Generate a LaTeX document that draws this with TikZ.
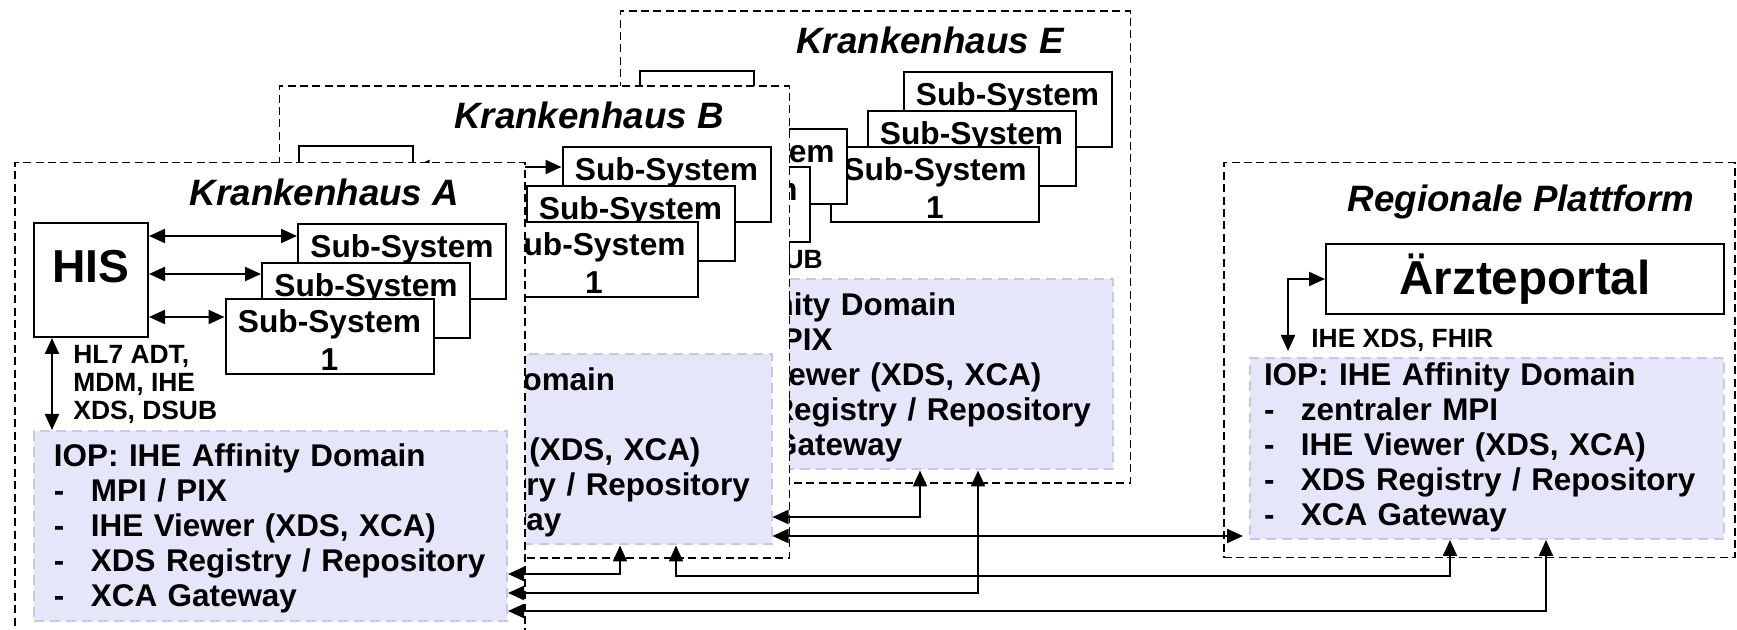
\documentclass[tikz,border=0pt]{standalone}
\usepackage{fontspec}
\setmainfont{Liberation Sans}
\usetikzlibrary{arrows.meta,calc}
\definecolor{iopfill}{RGB}{230,230,250}
\definecolor{iopline}{RGB}{198,198,240}
\newcommand\bul{\makebox[18.5pt][l]{-}}
\newcommand\ioplines[2]{\begin{tabular}{@{}l@{}}#1\\\bul #2\\\bul IHE Viewer (XDS, XCA)\\\bul XDS Registry / Repository\\\bul XCA Gateway\end{tabular}}
\newcommand\subtext{\rule{0pt}{15pt}Sub-System\\1}
\tikzset{
  hframe/.style={draw=black, fill=white, line width=0.75pt, dash pattern=on 4pt off 2.2pt, inner sep=0pt, anchor=north west},
  sysbox/.style={draw=black, fill=white, line width=1pt, inner sep=0pt, anchor=north west},
  subsys/.style={sysbox, minimum width=104pt, minimum height=37.5pt, align=center, font=\fontsize{15.85}{19}\selectfont\bfseries},
  hisbox/.style={sysbox, minimum width=57pt, minimum height=57pt, font=\fontsize{23.1}{28}\selectfont\bfseries, text height=16.5pt, text depth=14pt},
  frametitle/.style={font=\fontsize{18.35}{22}\selectfont\bfseries\itshape, inner sep=0pt},
  lbl/.style={font=\fontsize{13.2}{14}\selectfont\bfseries, align=left, inner sep=0pt},
  iop/.style={draw=iopline, fill=iopfill, line width=1pt, dash pattern=on 5pt off 3pt, anchor=north west, align=left, inner ysep=0pt, font=\fontsize{15.7}{17.5}\selectfont\bfseries},
  bi/.style={{Triangle[length=8pt,width=7pt]}-{Triangle[length=8pt,width=7pt]}, line width=1.1pt},
}
\newcommand\Haus[5]{%
  \begin{scope}[shift={(#2,#3)}]
    \node[hframe, minimum width=255pt, minimum height=236pt] (#1-frame) at (14,162) {};
    \node[frametitle] (#1-title) at (324.5,192) {Krankenhaus #4};
    \node[hisbox] (#1-his) at (33,222) {HIS};
    \node[subsys] (#1-s3) at (297,223) {\subtext};
    \node[subsys] (#1-s2) at (261,262) {\subtext};
    \node[subsys] (#1-s1) at (224.5,298) {\subtext};
    \node[lbl, anchor=west] (#1-lbl) at (73,384.5) {HL7 ADT,\\MDM, IHE\\XDS, DSUB};
    \node[iop, minimum width=236.5pt, minimum height=95pt, text width=216.5pt, inner xsep=10pt] (#1-iop) at (33,430)
      {\raisebox{-2pt}[\height][\depth]{\ioplines{#5}{MPI / PIX}}};
    \draw[bi] ([xshift=9.5pt]#1-his.south west) -- ([xshift=9.5pt]#1-iop.north west);
  \end{scope}}
\begin{document}
\begin{tikzpicture}[x=0.5pt,y=-0.5pt]
  \useasboundingbox (0,0) rectangle (1737,630);
  \clip (0,0) rectangle (1737,630);
  % Krankenhaus E (back)
  \Haus{E}{605.5}{-151.5}{E}{IHE Affinity Domain}
  % hidden further sub-systems between E and B
  \node[subsys] (X-s2) at (638,128) {\subtext};
  \node[subsys] (X-s1) at (601,166) {\subtext};
  % Krankenhaus B
  \Haus{B}{264.5}{-76.5}{B}{IHE Affinity Domain}
  \draw[bi] (B-his.east |- 0,167) -- (B-s3.west |- 0,167);
  \draw[bi] (B-his.east |- 0,197.5) -- (B-s2.west |- 0,197.5);
  \draw[bi] (B-his.east |- 0,240.5) -- (B-s1.west |- 0,240.5);
  % Krankenhaus A (front)
  \Haus{A}{0}{0}{A}{IOP: IHE Affinity Domain}
  \draw[bi] (A-his.east |- 0,236) -- (A-s3.west |- 0,236);
  \draw[bi] (A-his.east |- 0,274) -- (A-s2.west |- 0,274);
  \draw[bi] (A-his.east |- 0,317) -- (A-s1.west |- 0,317);
  % Regionale Plattform
  \node[hframe, minimum width=255.5pt, minimum height=197.5pt] (R-frame) at (1223,162) {};
  \node[frametitle] (R-title) at (1521,202) {Regionale Plattform};
  \node[sysbox, minimum width=199pt, minimum height=35pt, font=\fontsize{23.8}{28}\selectfont\bfseries] (R-arzt) at (1325,243) {Ärzteportal};
  \node[lbl, anchor=west] (R-lbl) at (1311,340) {IHE XDS, FHIR};
  \node[iop, minimum width=237pt, minimum height=90.5pt, text width=223pt, inner xsep=7pt] (R-iop) at (1249,357)
    {\ioplines{IOP: IHE Affinity Domain}{zentraler MPI}};
  \draw[bi] ([xshift=19.5pt,yshift=3pt]R-iop.north west) |- (R-arzt.west);
  % connectors between the affinity domains
  \draw[bi] ($(E-iop.south west)+(281.5,0)$) |- ($(B-iop.north east)+(0,163.5)$);
  \draw[bi] ($(B-iop.north east)+(0,182.5)$) -- ($(R-iop.north west)+(-6,179)$);
  \draw[bi] ($(B-iop.south west)+(322.5,0)$) |- ($(A-iop.north east)+(0,144)$);
  \draw[bi] ($(B-iop.south west)+(378.5,0)$) -- ++(0,30.5) -| ($(R-iop.south west)+(201,0)$);
  \draw[bi] ($(E-iop.south west)+(339.5,0)$) |- ($(A-iop.north east)+(0,163)$);
  \draw[bi] ($(R-iop.south west)+(297,0)$) |- ($(A-iop.north east)+(0,181)$);
\end{tikzpicture}
\end{document}
